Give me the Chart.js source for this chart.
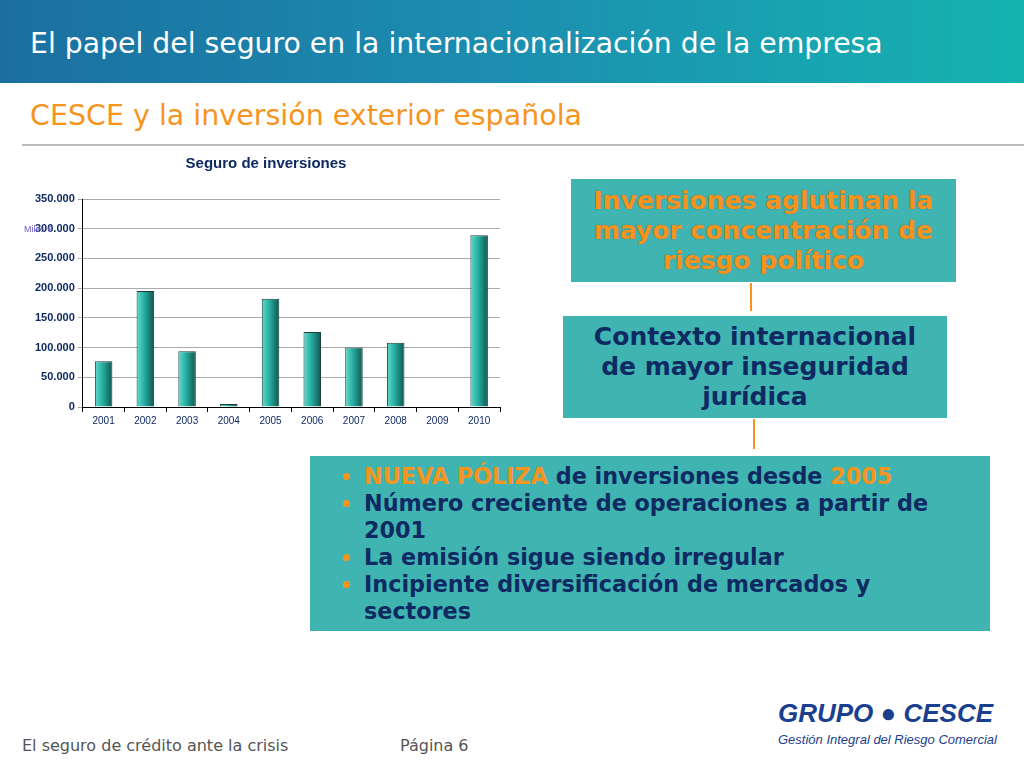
<!DOCTYPE html>
<html><head><meta charset="utf-8">
<script src="https://cdn.jsdelivr.net/npm/chart.js"></script>
<style>
body{margin:0;width:1024px;height:768px;position:relative;background:#fff;font-family:"DejaVu Sans",sans-serif;overflow:hidden}
#hdr{position:absolute;left:0;top:0;width:1024px;height:83px;background:linear-gradient(90deg,#1b6fa0 0%,#1c8fb0 50%,#15b3b0 100%)}
#hdr div{position:absolute;left:30px;top:27px;color:#fff;font-size:28.3px}
#sub{position:absolute;left:30px;top:99px;color:#f7941d;font-size:28.5px}
#line{position:absolute;left:22px;top:144px;width:1002px;height:2px;background:#bbb}
.box{position:absolute;background:#40b4b0;text-align:center;font-weight:bold;font-size:25px;line-height:30px}
#b1{left:571px;top:179px;width:385px;height:103px;color:#f7941d;padding-top:7px;box-sizing:border-box;text-shadow:0 0 1px #555}
#b2{left:563px;top:316px;width:384px;height:102px;color:#0f2a63;padding-top:6px;box-sizing:border-box}
.arr{position:absolute;width:2px;background:#f7941d}
#b3{left:310px;top:456px;width:680px;height:175px;text-align:left;color:#0f2a63;font-size:22.3px;line-height:27px;padding:7px 40px 0 0;box-sizing:border-box}
#b3 ul{margin:0;padding-left:54px}
#b3 li::marker{color:#f7941d}
.o{color:#f7941d}
#foot{position:absolute;left:22px;top:736px;color:#555;font-size:16px}
#pg{position:absolute;left:400px;top:736px;color:#555;font-size:16px}
#logo{position:absolute;left:778px;top:698px;color:#1b3f8f;font-weight:bold;font-style:italic;font-size:26px;font-family:"Liberation Sans"}
#logo2{position:absolute;left:778px;top:732px;color:#1b3f8f;font-style:italic;font-size:13px;font-family:"Liberation Sans"}
#wrap{position:absolute;left:20px;top:150px;width:488px;height:280px}
#miles{position:absolute;left:24px;top:224px;color:#6a5acd;font-size:9px;font-family:"Liberation Sans"}
</style></head><body>
<div id="hdr"><div>El papel del seguro en la internacionalización de la empresa</div></div>
<div id="sub">CESCE y la inversión exterior española</div>
<div id="line"></div>
<div id="wrap"><canvas id="c"></canvas></div>
<div id="miles">Miles €</div>
<div class="box" id="b1">Inversiones aglutinan la<br>mayor concentración de<br>riesgo político</div>
<div class="arr" style="left:750px;top:283px;height:28px"></div>
<div class="box" id="b2">Contexto internacional<br>de mayor inseguridad<br>jurídica</div>
<div class="arr" style="left:753px;top:419px;height:30px"></div>
<div class="box" id="b3"><ul>
<li><span class="o">NUEVA PÓLIZA</span> de inversiones desde <span class="o">2005</span></li>
<li>Número creciente de operaciones a partir de 2001</li>
<li>La emisión sigue siendo irregular</li>
<li>Incipiente diversificación de mercados y sectores</li></ul></div>
<div id="foot">El seguro de crédito ante la crisis</div>
<div id="pg">Página 6</div>
<div id="logo">GRUPO ● CESCE</div>
<div id="logo2">Gestión Integral del Riesgo Comercial</div>
<script>
const years=["2001","2002","2003","2004","2005","2006","2007","2008","2009","2010"];
const values=[77000,195000,94000,5000,182000,126000,100000,108000,0,289000];
const title="Seguro de inversiones";
const gradPlugin={id:'grad',beforeDatasetsDraw(chart){
  const c=chart.ctx;
  chart.getDatasetMeta(0).data.forEach(el=>{
    const w=el.width; const g=c.createLinearGradient(el.x-w/2,0,el.x+w/2,0);
    g.addColorStop(0,'#62dccf');g.addColorStop(0.45,'#25ac9f');g.addColorStop(1,'#10564f');
    el.options=Object.assign({},el.options,{backgroundColor:g});});
}};
new Chart(document.getElementById('c'),{type:'bar',plugins:[gradPlugin],
data:{labels:years,datasets:[{data:values,backgroundColor:'#2ab5a8',borderColor:'#1a3f3c',borderWidth:1,barPercentage:0.42,categoryPercentage:1}]},
options:{responsive:true,maintainAspectRatio:false,animation:false,
layout:{padding:{left:12,right:8,top:0,bottom:0}},
plugins:{legend:{display:false},tooltip:{enabled:false},
title:{display:true,text:title,color:'#0f2a63',font:{size:15,weight:'bold',family:'Liberation Sans'},padding:{top:5,bottom:26}}},
scales:{x:{grid:{display:true,drawOnChartArea:false,tickLength:5,color:'#000',offset:true},border:{color:'#000'},
ticks:{color:'#0f2a63',font:{size:10,family:'Liberation Sans'}}},
y:{min:0,max:350000,ticks:{stepSize:50000,color:'#0f2a63',font:{size:11,weight:'bold',family:'Liberation Sans'},
callback:v=>v===0?'0':v.toLocaleString('de-DE')},grid:{color:'#aaa',tickLength:5},border:{color:'#000'}}}}});
</script></body></html>
